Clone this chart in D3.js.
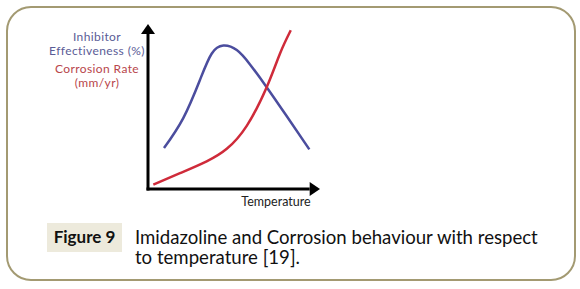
<!DOCTYPE html>
<html>
<head>
<meta charset="utf-8">
<script src="https://cdn.jsdelivr.net/npm/d3@7"></script>
<style>
  body { margin: 0; background: #fff; }
  svg { display: block; }
</style>
</head>
<body>
<svg id="chart" width="580" height="289"></svg>
<script>
// temperature (relative, 0-100) against value (relative, 0-100)
const effTemp = [9.3, 20.5, 30.2, 37, 43.8, 51.6, 59.3, 69, 80.6, 93.8];
const effValue = [24.8, 43, 66.1, 82, 86.9, 84.2, 75.5, 61.7, 44.2, 24];
const corrTemp = [3.1, 18.6, 34.1, 45.8, 57.4, 69, 76.7, 83];
const corrValue = [2.6, 9.6, 16.8, 24.4, 38.3, 61.7, 82, 96.2];
const yLabelEff = ["Inhibitor", "Effectiveness (%)"];
const yLabelCorr = ["Corrosion Rate", "(mm/yr)"];
const xLabel = "Temperature";
const figLabel = "Figure 9";
const caption = ["Imidazoline and Corrosion behaviour with respect", "to temperature [19]."];

const svg = d3.select("#chart");

// frame
svg.append("rect")
    .attr("x", 7).attr("y", 7)
    .attr("width", 568).attr("height", 273)
    .attr("rx", 24).attr("ry", 24)
    .attr("fill", "#fff")
    .attr("stroke", "#a39a72")
    .attr("stroke-width", 2);

let x = d3.scaleLinear().domain([0, 100]).range([148, 320]);
let y = d3.scaleLinear().domain([0, 100]).range([189, 24]);

// axes drawn as arrows
svg.append("line")
    .attr("x1", x(0)).attr("y1", y(0) + 1.5)
    .attr("x2", x(0)).attr("y2", y(94))
    .attr("stroke", "#000").attr("stroke-width", 3);
svg.append("path")
    .attr("d", `M ${x(0) - 7} ${y(94)} L ${x(0)} ${y(100)} L ${x(0) + 7} ${y(94)} Z`)
    .attr("fill", "#000");

svg.append("line")
    .attr("x1", x(0) - 1.5).attr("y1", y(0))
    .attr("x2", x(94)).attr("y2", y(0))
    .attr("stroke", "#000").attr("stroke-width", 3);
svg.append("path")
    .attr("d", `M ${x(94)} ${y(0) - 7} L ${x(100)} ${y(0)} L ${x(94)} ${y(0) + 7} Z`)
    .attr("fill", "#000");

let line = d3.line()
    .x(d => x(d[0]))
    .y(d => y(d[1]))
    .curve(d3.curveNatural);

svg.append("path")
    .datum(d3.zip(effTemp, effValue))
    .attr("d", line)
    .attr("fill", "none")
    .attr("stroke", "#4b4d9e")
    .attr("stroke-width", 2.5);

svg.append("path")
    .datum(d3.zip(corrTemp, corrValue))
    .attr("d", line)
    .attr("fill", "none")
    .attr("stroke", "#cf2b3a")
    .attr("stroke-width", 2.5);

// labels
let lab = svg.append("g")
    .attr("font-family", "Lato, 'Open Sans', sans-serif")
    .attr("font-size", 12)
    .attr("letter-spacing", 0.4)
    .attr("text-anchor", "middle");

yLabelEff.forEach((t, i) => {
    lab.append("text").attr("x", 97).attr("y", 41 + i * 14)
        .attr("fill", "#5a5c96").text(t);
});
yLabelCorr.forEach((t, i) => {
    lab.append("text").attr("x", 97).attr("y", 73 + i * 13.5)
        .attr("fill", "#b8464b").text(t);
});
lab.append("text").attr("x", 276).attr("y", 206)
    .attr("font-size", 12.5)
    .attr("letter-spacing", 0)
    .attr("fill", "#222").text(xLabel);

// caption
svg.append("rect")
    .attr("x", 47).attr("y", 223)
    .attr("width", 75).attr("height", 29)
    .attr("fill", "#edeadc");
svg.append("text")
    .attr("x", 84.5).attr("y", 243)
    .attr("text-anchor", "middle")
    .attr("font-family", "Lato, sans-serif")
    .attr("font-weight", "bold")
    .attr("font-size", 17)
    .attr("fill", "#111")
    .text(figLabel);

caption.forEach((t, i) => {
    svg.append("text")
        .attr("x", 135).attr("y", 244 + i * 20)
        .attr("font-family", "Lato, sans-serif")
        .attr("font-size", 18.6)
        .attr("fill", "#111")
        .text(t);
});
</script>
</body>
</html>
